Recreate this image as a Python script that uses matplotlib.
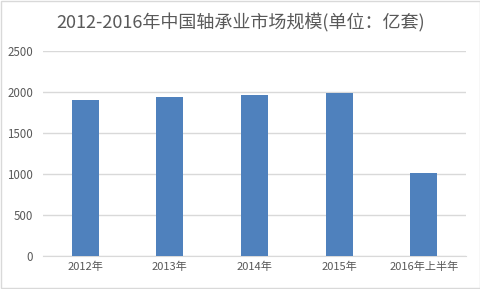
import matplotlib
matplotlib.use('Agg')
import matplotlib.pyplot as plt
from matplotlib.patches import Rectangle

plt.rcParams['font.family'] = ['Noto Sans CJK SC', 'DejaVu Sans']

categories = ['2012年', '2013年', '2014年', '2015年', '2016年上半年']
values = [1905, 1940, 1965, 1995, 1010]

fig = plt.figure(figsize=(4.81, 2.89), dpi=100)
ax = fig.add_axes([0.089, 0.114, 0.88, 0.709])

ax.bar(range(len(categories)), values, width=0.32, color='#4F81BD', zorder=3)

ax.set_ylim(0, 2500)
ax.set_xlim(-0.5, len(categories) - 0.5)
ax.set_yticks(range(0, 2501, 500))
ax.set_xticks(range(len(categories)))
ax.set_xticklabels(categories)
ax.grid(axis='y', color='#D9D9D9', linewidth=1, zorder=0)
ax.tick_params(axis='x', length=0, labelsize=8, colors='#595959', pad=4)
ax.tick_params(axis='y', length=0, labelsize=8.3, colors='#595959', pad=7)
for s in ['top', 'right', 'left']:
    ax.spines[s].set_visible(False)
ax.spines['bottom'].set_color('#D9D9D9')

fig.text(0.5, 0.922, '2012-2016年中国轴承业市场规模(单位：亿套)',
         ha='center', va='center', fontsize=13, color='#595959')

fig.patches.append(Rectangle((0.002, 0.003), 0.995, 0.994, transform=fig.transFigure,
                             fill=False, edgecolor='#D9D9D9', linewidth=1))

fig.savefig('out.png', dpi=100)
